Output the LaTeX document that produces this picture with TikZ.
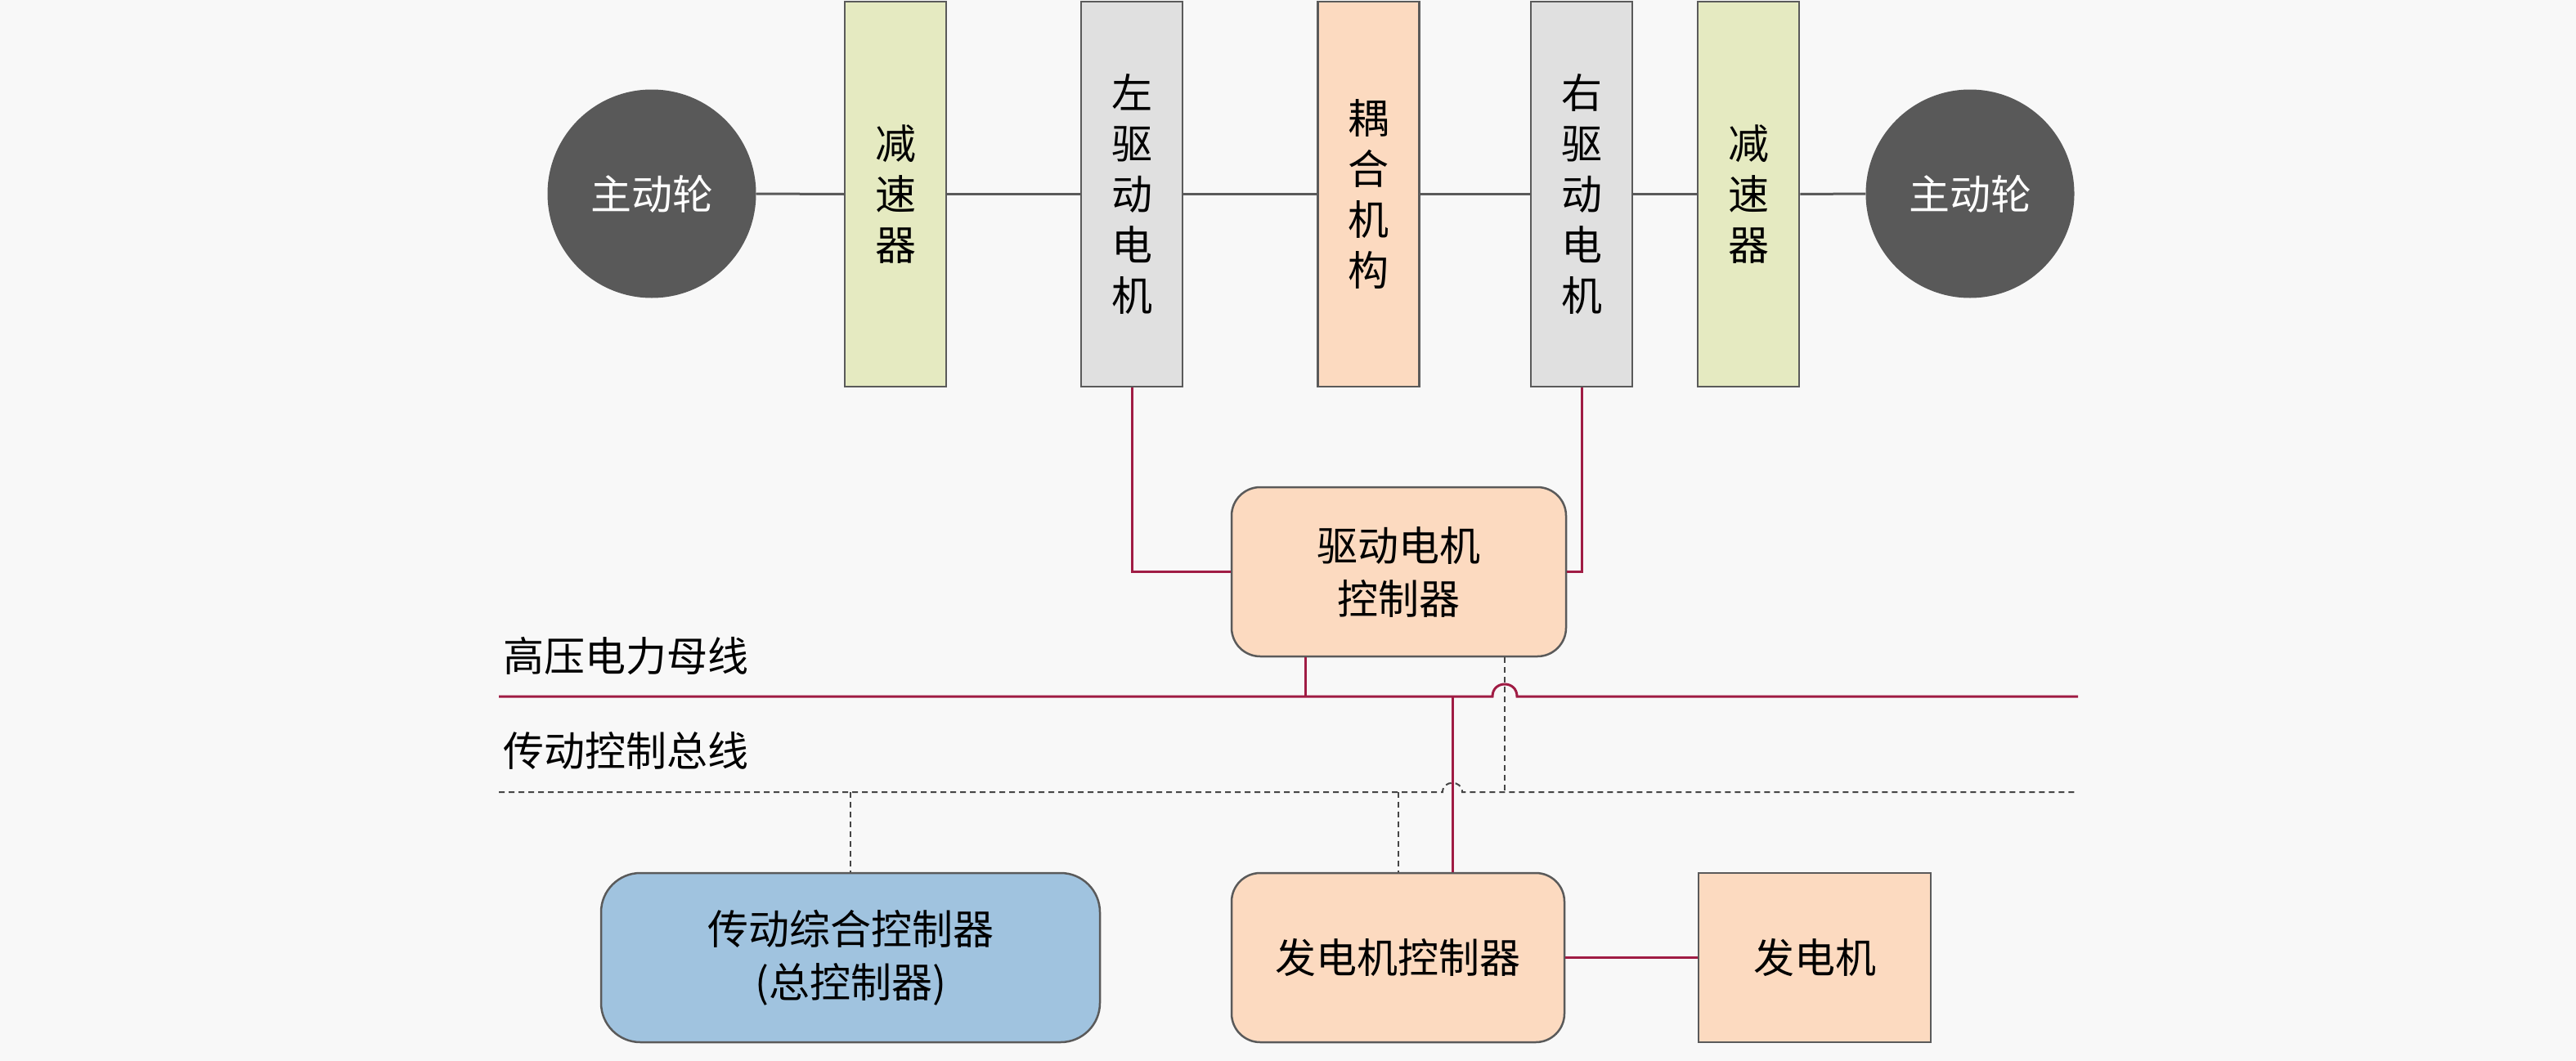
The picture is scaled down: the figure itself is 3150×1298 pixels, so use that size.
\documentclass[tikz,border=0pt]{standalone}
\usepackage{fontspec}
\setmainfont{Liberation Serif}
\newfontfamily\cjk{Noto Sans CJK SC}
\usetikzlibrary{calc}
\definecolor{bgc}{RGB}{248,248,248}
\definecolor{wheelc}{RGB}{89,89,89}
\definecolor{edgec}{RGB}{90,90,90}
\definecolor{greenc}{RGB}{229,234,193}
\definecolor{grayc}{RGB}{224,224,224}
\definecolor{peachc}{RGB}{252,218,192}
\definecolor{bluec}{RGB}{160,195,223}
\definecolor{redc}{RGB}{160,28,68}
\definecolor{dashc}{RGB}{70,70,70}
\begin{document}
\begin{tikzpicture}[x=1pt,y=-1pt,
  txt/.style={font=\cjk\fontsize{50}{62}\selectfont, text=black},
  wheel/.style={circle, fill=wheelc, minimum size=255pt, inner sep=0pt, font=\cjk\fontsize{50}{62}\selectfont, text=white},
  vbox/.style={rectangle, draw=edgec, line width=2.5pt, minimum width=124pt, minimum height=471pt, inner sep=0pt, align=center, txt},
  ctrlbox/.style={rectangle, rounded corners=35pt, draw=edgec, line width=2.5pt, minimum height=207pt, inner sep=0pt, align=center, font=\cjk\fontsize{50}{65}\selectfont},
  mech/.style={draw=edgec, line width=3pt},
  power/.style={draw=redc, line width=3pt},
  signal/.style={draw=dashc, line width=2pt, dash pattern=on 7pt off 5pt},
  lbl/.style={anchor=west, inner sep=0pt, txt}
]
\useasboundingbox[fill=bgc] (0,0) rectangle (3150,1298);

% top row
\node[wheel] (lc) at (797,237) {主动轮};
\node[vbox, fill=greenc] (lr) at (1095,237.5) {减\\速\\器};
\node[vbox, fill=grayc] (lm) at (1384,237.5) {左\\驱\\动\\电\\机};
\node[vbox, fill=peachc] (cp) at (1673.5,237.5) {耦\\合\\机\\构};
\node[vbox, fill=grayc] (rm) at (1934,237.5) {右\\驱\\动\\电\\机};
\node[vbox, fill=greenc] (rr) at (2138,237.5) {减\\速\\器};
\node[wheel] (rc) at (2409,237) {主动轮};

\draw[mech] (lc.east) -- (lr.west);
\draw[mech] (lr.east) -- (lm.west);
\draw[mech] (lm.east) -- (cp.west);
\draw[mech] (cp.east) -- (rm.west);
\draw[mech] (rm.east) -- (rr.west);
\draw[mech] (rr.east) -- (rc.west);

% drive motor controller
\node[ctrlbox, fill=peachc, minimum width=409pt] (dc) at (1710.5,699.5) {驱动电机\\控制器};
\draw[power] (lm.south) |- (dc.west);
\draw[power] (rm.south) |- (dc.east);

% bus labels
\node[lbl] (hvlabel) at (615,803) {高压电力母线};
\node[lbl] (cblabel) at (615,918) {传动控制总线};

% bottom row
\node[ctrlbox, rounded corners=48pt, fill=bluec, minimum width=610pt] (tc) at (1040,1171.5) {传动综合控制器\\(总控制器)};
\node[ctrlbox, fill=peachc, minimum width=407pt] (gc) at (1709.5,1171.5) {发电机控制器};
\node[rectangle, draw=edgec, line width=2.5pt, fill=peachc, minimum width=284pt, minimum height=207pt, inner sep=0pt, txt] (gen) at (2219,1171.5) {发电机};
\draw[power] (gc.east) -- (gen.west);

% bus coordinates
\coordinate (hvL) at (610,852);
\coordinate (hvR) at (2541,852);
\coordinate (hopA) at (1825,852);
\coordinate (hopB) at (1855,852);
\coordinate (cbL) at (610,969);
\coordinate (cbR) at (2541,969);
\coordinate (hopC) at (1764,969);
\coordinate (hopD) at (1788,969);
\coordinate (hvtap) at (1596,852);
\coordinate (gctap) at (1776,852);
\coordinate (dctap) at (1840,969);
\coordinate (gcsig) at (1710,969);
\coordinate (tcsig) at (1040,969);

% high-voltage bus with hop
\draw[power] (hvL) -- (hopA) .. controls ($(hopA)+(0,-20)$) and ($(hopB)+(0,-20)$) .. (hopB) -- (hvR);
% control bus with hop
\draw[signal] (cbL) -- (hopC) .. controls ($(hopC)+(0,-15)$) and ($(hopD)+(0,-15)$) .. (hopD) -- (cbR);

% connections to buses
\draw[power] (dc.south -| hvtap) -- (hvtap);
\draw[signal] (dc.south -| dctap) -- (dctap);
\draw[power] (gctap) -- (gc.north -| gctap);
\draw[signal] (gcsig) -- (gc.north -| gcsig);
\draw[signal] (tcsig) -- (tc.north);
\end{tikzpicture}
\end{document}
